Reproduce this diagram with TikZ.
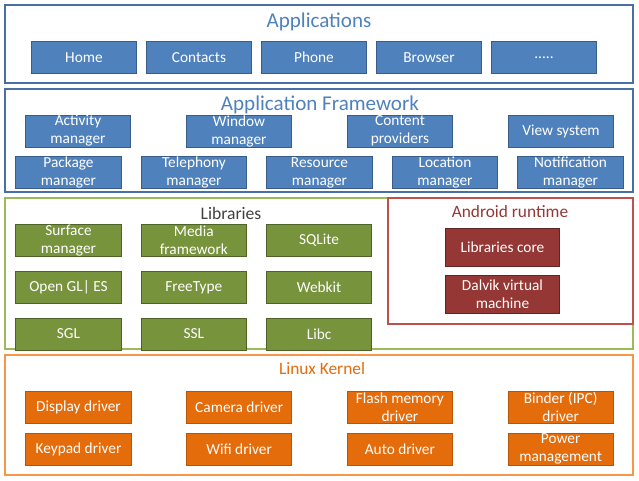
\documentclass[tikz,border=0pt]{standalone}
\usepackage{fontspec}
\setmainfont{Carlito}
\definecolor{appblue}{HTML}{4F81BD}
\definecolor{appedge}{HTML}{385D8A}
\definecolor{appframe}{HTML}{4A6FA5}
\definecolor{libgreen}{HTML}{77933C}
\definecolor{libedge}{HTML}{4F6228}
\definecolor{libframe}{HTML}{9BBB59}
\definecolor{rtred}{HTML}{953735}
\definecolor{rtedge}{HTML}{632523}
\definecolor{rtframe}{HTML}{C0504D}
\definecolor{krnorange}{HTML}{E46C0A}
\definecolor{krnedge}{HTML}{B65708}
\definecolor{krnframe}{HTML}{F79646}
\newcommand{\moredots}{.....}
\usetikzlibrary{positioning}

\begin{document}
\begin{tikzpicture}[x=0.75pt,y=-0.75pt,
  box/.style={draw, line width=0.6pt, text=white, align=center, inner sep=0pt,
    font=\fontsize{11.5}{13.5}\selectfont, minimum height=24pt, minimum width=79pt},
  appbox/.style={box, fill=appblue, draw=appedge},
  libbox/.style={box, fill=libgreen, draw=libedge},
  rtbox/.style={box, fill=rtred, draw=rtedge, minimum width=86pt, minimum height=28pt},
  krnbox/.style={box, fill=krnorange, draw=krnedge},
  frame/.style={line width=1.1pt}]
\useasboundingbox (0,0) rectangle (639,480);
% applications
\draw[frame, appframe] (5,5) rectangle (633,83);
\node[text=appblue, font=\fontsize{15.8}{18}\selectfont] (apptitle) at (319,22) {Applications};
\foreach \t [count=\i] in {Home,Contacts,Phone,Browser,\moredots} {
 \node[appbox] (app\i) at ({84+115*(\i-1)},57.5) {\t};
}
% application framework
\draw[frame, appframe] (5,89) rectangle (633,192);
\node[text=appblue, font=\fontsize{15.8}{18}\selectfont] (fwtitle) at (320,105) {Application Framework};
\foreach \t [count=\i] in {{Activity\\manager},{Window\\manager},{Content\\providers},View system} {
 \node[appbox] (fwa\i) at ({78+161*(\i-1)},131) {\t};
}
\foreach \t [count=\i] in {{Package\\manager},{Telephony\\manager},{Resource\\manager},{Location\\manager},{Notification\\manager}} {
 \node[appbox] (fwb\i) at ({68.5+125.5*(\i-1)},172.5) {\t};
}
% libraries
\draw[frame, libframe] (5,198) rectangle (633,349);
\node[text=black!75, font=\fontsize{13.2}{15}\selectfont] (libtitle) at (231,213) {Libraries};
\foreach \t [count=\i] in {{Surface\\manager},{Media\\framework},SQLite} {
 \node[libbox] (liba\i) at ({68.5+125.3*(\i-1)},240.5) {\t};
}
\foreach \t [count=\i] in {{Open GL\textbar{} ES},FreeType,Webkit} {
 \node[libbox] (libb\i) at ({68.5+125.3*(\i-1)},287.5) {\t};
}
\foreach \t [count=\i] in {SGL,SSL,Libc} {
 \node[libbox] (libc\i) at ({68.5+125.3*(\i-1)},334) {\t};
}
% android runtime
\draw[frame, rtframe, line width=0.9pt] (388,198) rectangle (633,324);
\node[text=rtred, font=\fontsize{13}{15}\selectfont] (rttitle) at (510,212) {Android runtime};
\node[rtbox] (rtcore) at (502.5,247.5) {Libraries core};
\node[rtbox] (rtdalvik) at (502.5,294.5) {Dalvik virtual\\machine};
% linux kernel
\draw[frame, krnframe] (5,355) rectangle (633,475);
\node[text=krnorange, font=\fontsize{13}{15}\selectfont] (krntitle) at (322,369) {Linux Kernel};
\foreach \t [count=\i] in {Display driver,Camera driver,{Flash memory\\driver},{Binder (IPC)\\driver}} {
 \node[krnbox] (krna\i) at ({78.5+160.7*(\i-1)},407) {\t};
}
\foreach \t [count=\i] in {Keypad driver,Wifi driver,Auto driver,{Power\\management}} {
 \node[krnbox] (krnb\i) at ({78.5+160.7*(\i-1)},449) {\t};
}
\end{tikzpicture}
\end{document}
